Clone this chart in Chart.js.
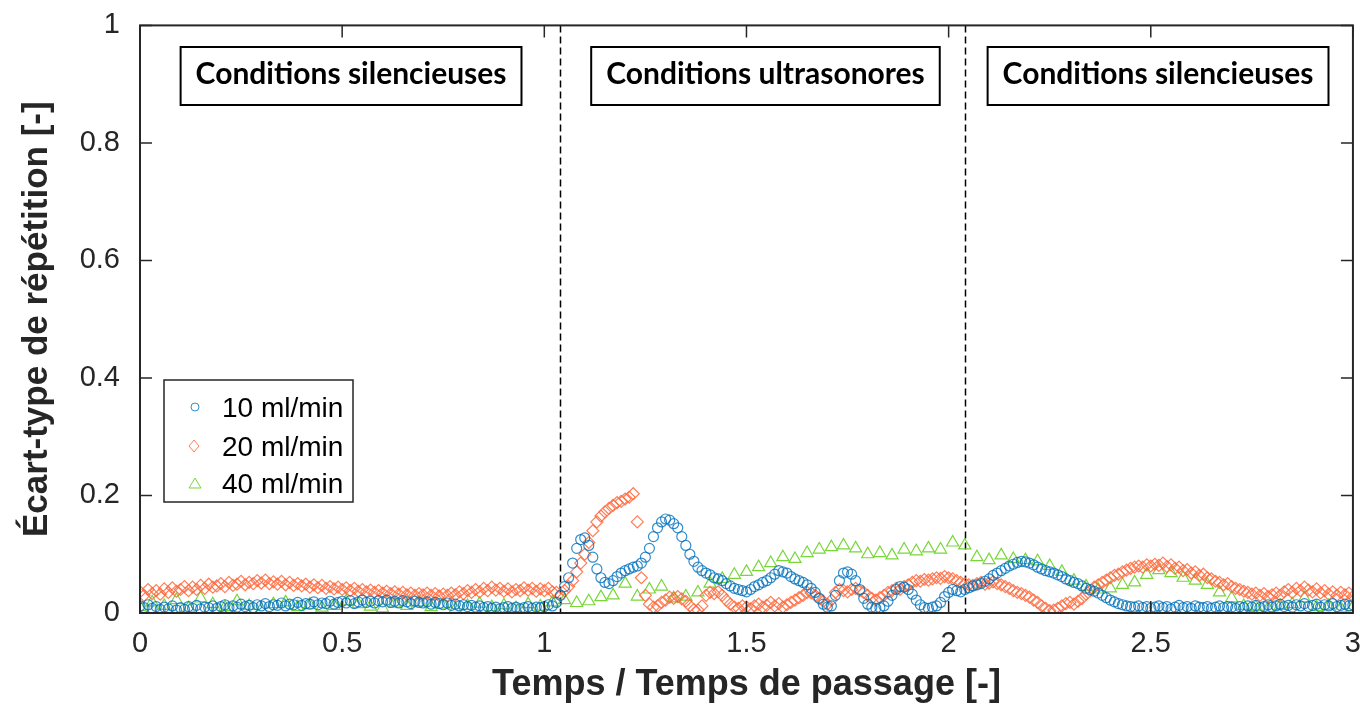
<!DOCTYPE html>
<html>
<head>
<meta charset="utf-8">
<script src="https://cdn.jsdelivr.net/npm/chart.js@4.4.1/dist/chart.umd.min.js"></script>
<style>
  html, body { margin: 0; padding: 0; background: #fff; }
  #wrap { width: 1360px; height: 711px; overflow: hidden; }
  #myChart { display: block; margin-top: -4px; }
</style>
</head>
<body>
<div id="wrap"><canvas id="myChart" width="1367" height="715"></canvas></div>
<script>
// standard deviation of repetition vs. dimensionless time
const seriesLabels = ['10 ml/min', '20 ml/min', '40 ml/min'];
const stepBlue = 0.01, stepOrange = 0.01, stepGreen = 0.03;

const blueY = [
  0.012,0.009,0.014,0.008,0.011,0.006,0.010,0.007,0.012,0.005,
  0.009,0.006,0.011,0.008,0.013,0.007,0.010,0.009,0.012,0.008,
  0.011,0.014,0.009,0.012,0.010,0.015,0.011,0.013,0.009,0.014,
  0.012,0.016,0.011,0.014,0.013,0.017,0.012,0.015,0.014,0.018,
  0.013,0.016,0.015,0.019,0.014,0.017,0.016,0.020,0.015,0.018,
  0.020,0.017,0.021,0.016,0.019,0.022,0.018,0.020,0.017,0.021,
  0.019,0.022,0.018,0.020,0.017,0.021,0.019,0.016,0.020,0.018,
  0.017,0.019,0.015,0.018,0.016,0.014,0.017,0.013,0.015,0.012,
  0.014,0.011,0.013,0.010,0.012,0.009,0.011,0.008,0.010,0.007,
  0.009,0.011,0.008,0.010,0.007,0.009,0.011,0.008,0.010,0.009,
  0.011,0.014,0.012,0.018,0.030,0.045,0.060,0.085,0.110,0.125,
  0.128,0.115,0.095,0.075,0.060,0.052,0.050,0.055,0.062,0.068,
  0.072,0.075,0.078,0.080,0.085,0.095,0.110,0.130,0.145,0.155,
  0.160,0.158,0.152,0.145,0.130,0.115,0.100,0.088,0.078,0.072,
  0.068,0.065,0.060,0.058,0.055,0.050,0.046,0.042,0.040,0.038,
  0.036,0.040,0.045,0.048,0.052,0.055,0.060,0.066,0.072,0.070,
  0.068,0.062,0.058,0.055,0.052,0.048,0.042,0.035,0.025,0.015,
  0.010,0.012,0.030,0.055,0.068,0.070,0.066,0.055,0.040,0.025,
  0.015,0.010,0.008,0.009,0.012,0.020,0.030,0.040,0.045,0.044,
  0.040,0.032,0.022,0.014,0.009,0.008,0.010,0.012,0.018,0.028,
  0.035,0.040,0.038,0.036,0.040,0.043,0.046,0.048,0.050,0.054,
  0.058,0.064,0.068,0.072,0.076,0.080,0.083,0.086,0.088,0.087,
  0.085,0.082,0.078,0.075,0.072,0.070,0.068,0.065,0.062,0.058,
  0.055,0.052,0.050,0.046,0.042,0.040,0.037,0.034,0.030,0.026,
  0.022,0.019,0.016,0.014,0.012,0.011,0.010,0.012,0.009,0.011,
  0.008,0.010,0.012,0.009,0.011,0.007,0.010,0.013,0.009,0.011,
  0.008,0.012,0.010,0.009,0.011,0.008,0.010,0.012,0.009,0.011,
  0.010,0.008,0.011,0.009,0.012,0.010,0.013,0.009,0.011,0.014,
  0.010,0.012,0.015,0.011,0.013,0.010,0.014,0.012,0.016,0.011,
  0.013,0.015,0.010,0.014,0.012,0.016,0.011,0.013,0.015,0.012,
  0.014
];

const orangeY = [
  0.036,0.030,0.040,0.033,0.038,0.032,0.041,0.035,0.043,0.037,
  0.040,0.045,0.038,0.044,0.040,0.047,0.042,0.049,0.044,0.046,
  0.050,0.045,0.052,0.047,0.049,0.054,0.048,0.052,0.050,0.055,
  0.051,0.056,0.050,0.053,0.049,0.054,0.048,0.052,0.047,0.050,
  0.046,0.049,0.044,0.048,0.043,0.047,0.042,0.045,0.041,0.044,
  0.040,0.043,0.038,0.042,0.037,0.040,0.036,0.039,0.035,0.038,
  0.034,0.037,0.033,0.036,0.032,0.035,0.031,0.034,0.030,0.033,
  0.031,0.034,0.030,0.033,0.029,0.032,0.030,0.034,0.031,0.036,
  0.033,0.038,0.035,0.040,0.036,0.042,0.038,0.044,0.039,0.042,
  0.037,0.041,0.036,0.040,0.038,0.043,0.039,0.042,0.037,0.041,
  0.038,0.042,0.036,0.035,0.030,0.038,0.045,0.055,0.070,0.085,
  0.100,0.120,0.140,0.155,0.165,0.172,0.178,0.183,0.188,0.190,
  0.194,0.197,0.203,0.155,0.060,0.030,0.015,0.010,0.012,0.018,
  0.022,0.027,0.025,0.028,0.024,0.020,0.012,0.006,0.005,0.012,
  0.030,0.035,0.033,0.036,0.030,0.022,0.015,0.010,0.008,0.012,
  0.010,0.007,0.012,0.015,0.010,0.013,0.018,0.012,0.016,0.010,
  0.014,0.018,0.022,0.026,0.030,0.035,0.034,0.030,0.025,0.020,
  0.015,0.022,0.035,0.040,0.038,0.036,0.040,0.042,0.038,0.035,
  0.030,0.025,0.022,0.026,0.030,0.035,0.038,0.042,0.040,0.045,
  0.048,0.052,0.055,0.054,0.057,0.056,0.058,0.060,0.059,0.062,
  0.060,0.058,0.055,0.052,0.050,0.048,0.047,0.050,0.052,0.049,
  0.051,0.053,0.050,0.048,0.045,0.042,0.038,0.035,0.033,0.030,
  0.027,0.022,0.018,0.012,0.008,0.004,0.005,0.008,0.012,0.016,
  0.018,0.015,0.020,0.025,0.032,0.038,0.044,0.048,0.052,0.056,
  0.060,0.064,0.066,0.070,0.073,0.076,0.078,0.080,0.078,0.082,
  0.080,0.083,0.081,0.085,0.079,0.082,0.076,0.078,0.072,0.074,
  0.068,0.070,0.064,0.066,0.060,0.058,0.054,0.052,0.048,0.050,
  0.045,0.042,0.040,0.037,0.035,0.032,0.034,0.030,0.033,0.028,
  0.031,0.034,0.030,0.036,0.040,0.035,0.042,0.038,0.044,0.039,
  0.036,0.041,0.034,0.038,0.032,0.036,0.030,0.035,0.031,0.034,
  0.028
];

const greenY = [
  0.010,0.018,0.012,0.022,0.008,0.025,0.015,0.010,0.020,0.012,
  0.006,0.015,0.018,0.010,0.014,0.009,0.012,0.020,0.015,0.011,
  0.008,0.016,0.012,0.018,0.010,0.014,0.007,0.012,0.016,0.010,
  0.013,0.008,0.015,0.011,0.018,
  0.022,0.017,0.020,0.027,0.030,0.050,0.028,0.040,0.045,0.025,0.028,0.035,0.050,0.058,0.065,0.070,0.078,0.085,0.095,0.092,0.102,0.108,0.112,0.115,
  0.110,0.100,0.102,0.098,0.108,0.105,0.110,0.108,0.120,0.115,0.095,0.090,0.098,0.092,0.090,0.088,0.080,0.070,0.055,0.045,0.040,0.042,0.048,0.052,
  0.065,0.073,0.068,0.060,0.055,0.048,0.035,0.025,0.012,0.010,0.008,0.012,0.015,0.025,0.010,0.012,0.008,0.010
];

const xTicks = [0, 0.5, 1, 1.5, 2, 2.5, 3];
const yTicks = [0, 0.2, 0.4, 0.6, 0.8, 1];
const dividers = [1.04, 2.04];
const zoneLabels = ['Conditions silencieuses', 'Conditions ultrasonores', 'Conditions silencieuses'];
const zoneCenters = [0.522, 1.547, 2.518];

const toPoints = (ys, step) => ys.map((v, i) => ({ x: +(i * step).toFixed(3), y: v }));

const blue = 'rgba(0,114,189,0.8)';
const orange = 'rgba(255,105,60,0.85)';
const green = 'rgba(105,210,35,0.9)';

// canvas is shifted up by this much so the plot box lands where the figure has it
const shiftY = 4;

const framePlugin = {
  id: 'frame',
  beforeDatasetsDraw(chart) {
    const { ctx, chartArea: a, scales: { x } } = chart;
    ctx.save();
    ctx.strokeStyle = '#000';
    ctx.lineWidth = 1.5;
    ctx.setLineDash([7, 4]);
    dividers.forEach(d => {
      const px = Math.round(x.getPixelForValue(d)) + 0.5;
      ctx.beginPath();
      ctx.moveTo(px, a.top);
      ctx.lineTo(px, a.bottom);
      ctx.stroke();
    });
    ctx.restore();
  },
  afterDatasetsDraw(chart) {
    const { ctx, chartArea: a, scales: { x, y } } = chart;
    ctx.save();
    // box + inward ticks
    ctx.strokeStyle = '#262626';
    ctx.lineWidth = 2;
    ctx.strokeRect(a.left, a.top, a.right - a.left, a.bottom - a.top);
    ctx.lineWidth = 1.5;
    xTicks.forEach(t => {
      const px = x.getPixelForValue(t);
      ctx.beginPath();
      ctx.moveTo(px, a.bottom); ctx.lineTo(px, a.bottom - 12);
      ctx.moveTo(px, a.top); ctx.lineTo(px, a.top + 12);
      ctx.stroke();
    });
    yTicks.forEach(t => {
      const py = y.getPixelForValue(t);
      ctx.beginPath();
      ctx.moveTo(a.left, py); ctx.lineTo(a.left + 12, py);
      ctx.moveTo(a.right, py); ctx.lineTo(a.right - 12, py);
      ctx.stroke();
    });

    ctx.translate(0, shiftY);

    // zone labels
    ctx.font = 'bold 30px Lato';
    ctx.textAlign = 'center';
    ctx.textBaseline = 'alphabetic';
    zoneLabels.forEach((txt, i) => {
      const cx = x.getPixelForValue(zoneCenters[i]);
      const w = ctx.measureText(txt).width + 30;
      ctx.fillStyle = '#fff';
      ctx.fillRect(cx - w / 2, 47, w, 58);
      ctx.strokeStyle = '#000';
      ctx.lineWidth = 2;
      ctx.strokeRect(cx - w / 2, 47, w, 58);
      ctx.fillStyle = '#000';
      ctx.fillText(txt, cx, 84);
    });

    // legend
    ctx.fillStyle = '#fff';
    ctx.fillRect(164, 380, 189, 122);
    ctx.strokeStyle = '#262626';
    ctx.lineWidth = 1.5;
    ctx.strokeRect(164, 380, 189, 122);
    ctx.font = '28px "Liberation Sans"';
    ctx.textAlign = 'left';
    ctx.textBaseline = 'middle';
    const rows = [407, 446, 483];
    chart.data.datasets.forEach((ds, i) => {
      const cy = rows[i];
      ctx.strokeStyle = ds.borderColor;
      ctx.lineWidth = 1;
      ctx.beginPath();
      if (i === 0) {
        ctx.arc(195, cy, 4, 0, Math.PI * 2);
      } else if (i === 1) {
        ctx.moveTo(194, cy - 6); ctx.lineTo(199, cy); ctx.lineTo(194, cy + 6); ctx.lineTo(189, cy); ctx.closePath();
      } else {
        ctx.moveTo(195, cy - 5); ctx.lineTo(201, cy + 5); ctx.lineTo(189, cy + 5); ctx.closePath();
      }
      ctx.stroke();
      ctx.fillStyle = '#000';
      ctx.fillText(ds.label, 222, cy + 2);
    });
    ctx.restore();
  }
};

new Chart(document.getElementById('myChart'), {
  type: 'scatter',
  data: {
    datasets: [
      { label: seriesLabels[0], data: toPoints(blueY, stepBlue), pointStyle: 'circle', pointRadius: 5,
        borderColor: blue, backgroundColor: 'rgba(0,0,0,0)', pointBorderWidth: 1.2 },
      { label: seriesLabels[1], data: toPoints(orangeY, stepOrange), pointStyle: 'rectRot', pointRadius: 6,
        borderColor: orange, backgroundColor: 'rgba(0,0,0,0)', pointBorderWidth: 1.2 },
      { label: seriesLabels[2], data: toPoints(greenY, stepGreen), pointStyle: 'triangle', pointRadius: 7,
        borderColor: green, backgroundColor: 'rgba(0,0,0,0)', pointBorderWidth: 1.2 }
    ]
  },
  options: {
    responsive: false,
    animation: false,
    layout: { padding: { left: 0, right: 0, top: 20, bottom: 0 } },
    plugins: { legend: { display: false }, tooltip: { enabled: false } },
    scales: {
      x: {
        type: 'linear', min: 0, max: 3,
        afterBuildTicks: s => { s.ticks = xTicks.map(v => ({ value: v })); },
        afterFit: s => { s.height = 98; },
        grid: { display: false }, border: { display: false },
        ticks: { color: '#262626', font: { family: 'Liberation Sans', size: 29 }, padding: 6, maxRotation: 0,
                 callback: v => String(v) },
        title: { display: true, text: 'Temps / Temps de passage [-]', color: '#262626',
                 font: { family: 'Liberation Sans', size: 36, weight: 'bold' }, padding: { top: 5 } }
      },
      y: {
        min: 0, max: 1,
        afterBuildTicks: s => { s.ticks = yTicks.map(v => ({ value: v })); },
        afterFit: s => { s.width = 140; },
        grid: { display: false }, border: { display: false },
        ticks: { color: '#262626', font: { family: 'Liberation Sans', size: 29 }, padding: 12,
                 callback: v => String(v) },
        title: { display: true, text: 'Écart-type de répétition [-]', color: '#262626',
                 font: { family: 'Liberation Sans', size: 35, weight: 'bold' }, padding: { top: 16, bottom: 0 } }
      }
    }
  },
  plugins: [framePlugin]
});
</script>
</body>
</html>
